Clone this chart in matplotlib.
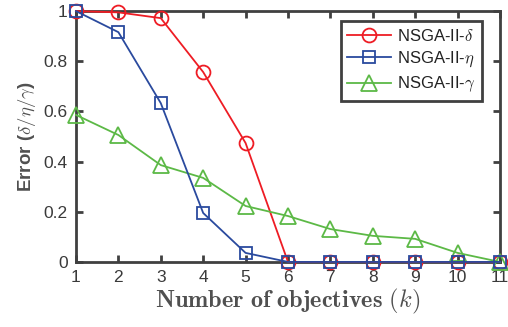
import matplotlib
matplotlib.use('Agg')
import matplotlib.pyplot as plt

k = [1, 2, 3, 4, 5, 6, 7, 8, 9, 10, 11]
err_delta = [1.0, 0.995, 0.972, 0.757, 0.474, 0, 0, 0, 0, 0, 0]
err_eta = [1.0, 0.916, 0.633, 0.195, 0.036, 0, 0, 0, 0, 0, 0]
err_gamma = [0.586, 0.506, 0.386, 0.335, 0.223, 0.183, 0.131, 0.104, 0.092, 0.036, 0.0]

plt.rcParams['font.family'] = ['Liberation Sans', 'DejaVu Sans']
plt.rcParams['mathtext.fontset'] = 'cm'

axc = '#404040'
fig = plt.figure(figsize=(5.08, 3.27), dpi=100)
ax = fig.add_axes([0.1496, 0.199, 0.8346, 0.767])

ax.plot(k, err_delta, color='#ee1c24', marker='o', markersize=10, markerfacecolor='none',
        markeredgewidth=1.3, linewidth=1.3, label=r'NSGA-II-$\delta$', clip_on=False, zorder=3)
ax.plot(k, err_eta, color='#2a4a9e', marker='s', markersize=9, markerfacecolor='none',
        markeredgewidth=1.3, linewidth=1.3, label=r'NSGA-II-$\eta$', clip_on=False, zorder=4)
ax.plot(k, err_gamma, color='#5cb946', marker='^', markersize=11, markerfacecolor='none',
        markeredgewidth=1.3, linewidth=1.3, label=r'NSGA-II-$\gamma$', clip_on=False, zorder=3)

ax.set_xlim(1, 11)
ax.set_ylim(0, 1)
ax.set_xticks(k)
ax.set_yticks([0, 0.2, 0.4, 0.6, 0.8, 1.0])
ax.set_yticklabels(['0', '0.2', '0.4', '0.6', '0.8', '1'])

for s in ax.spines.values():
    s.set_color(axc)
    s.set_linewidth(2)
ax.tick_params(direction='in', length=5, width=2, color=axc, labelcolor='#3a3a3a',
               labelsize=12.5, top=True, right=True, pad=6)

ax.set_xlabel(r'$\mathbf{Number\ of\ objectives}\ (k)$', fontsize=17.5, color='#505050', labelpad=1)
ax.set_ylabel(r'Error ($\delta/\eta/\gamma$)', fontsize=13.5, fontweight='bold', color='#505050', labelpad=4)

leg = ax.legend(loc='upper right', bbox_to_anchor=(0.958, 0.96), fontsize=12,
                fancybox=False, framealpha=1, edgecolor=axc, handlelength=2.6,
                borderaxespad=0, labelspacing=0.35, handletextpad=0.4)
leg.get_frame().set_linewidth(2)
for t in leg.get_texts():
    t.set_color('#222222')

fig.savefig('out.png', dpi=100)
